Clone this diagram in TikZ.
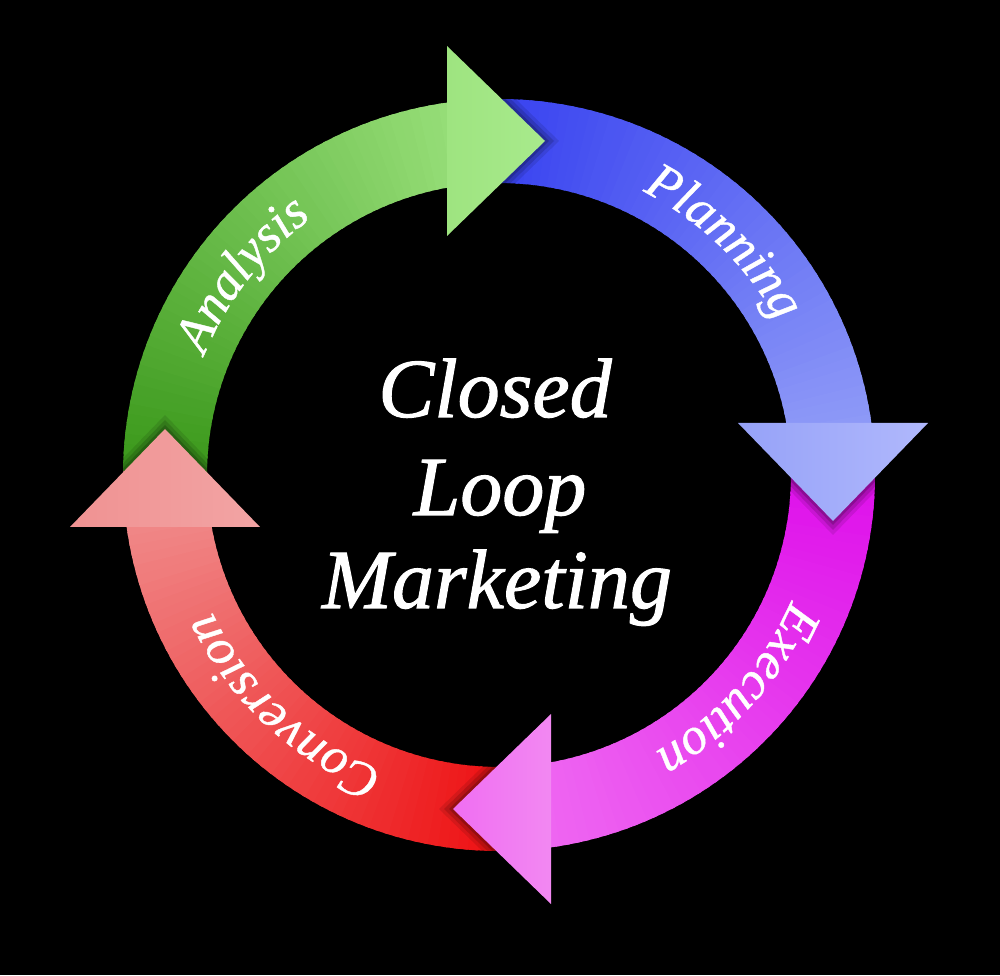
\documentclass[tikz,border=0pt]{standalone}
\usepackage{fontspec}
\setmainfont{Liberation Serif}
\usetikzlibrary{decorations.text}
\definecolor{gA}{RGB}{56,150,24}
\definecolor{gB}{RGB}{158,228,128}
\definecolor{gH}{RGB}{168,234,140}
\definecolor{bA}{RGB}{54,64,240}
\definecolor{bB}{RGB}{150,162,248}
\definecolor{bH}{RGB}{176,184,252}
\definecolor{mA}{RGB}{222,14,234}
\definecolor{mB}{RGB}{240,110,242}
\definecolor{mH}{RGB}{242,136,242}
\definecolor{rA}{RGB}{238,14,16}
\definecolor{rB}{RGB}{240,146,146}
\definecolor{rH}{RGB}{242,164,164}
\newcommand\arcbody[4]{%
  \foreach \i in {0,...,59}{%
    \pgfmathsetmacro\aa{#1+(#2-#1)*\i/60}%
    \pgfmathsetmacro\ab{#1+(#2-#1)*(\i+1.4)/60}%
    \pgfmathtruncatemacro\tt{100*\i/59}%
    \fill[#4!\tt!#3] (\aa:292pt) arc[start angle=\aa, end angle=\ab, radius=292pt]
      -- (\ab:376pt) arc[start angle=\ab, end angle=\aa, radius=376pt] -- cycle;
  }}
\newcommand\arrowhead[3]{%
  \begin{scope}[rotate=#1]
    \foreach \s/\o in {4/0.18,9/0.14,14/0.10}{%
      \fill[black,opacity=\o] (-52+\s,239) -- (-52+\s,429) -- (46+\s,334) -- cycle;}
    \shade[left color=#2, right color=#3] (-52,239) -- (-52,429) -- (46,334) -- cycle;
  \end{scope}}
\newcommand\lblfont{\fontsize{52}{52}\selectfont\itshape\addfontfeature{FakeBold=0.8}}
\begin{document}
\begin{tikzpicture}[x=1pt,y=1pt,
  ctext/.style={text=white,font=\fontsize{84}{97}\selectfont\itshape\addfontfeature{FakeBold=1.2},inner sep=0pt,anchor=base},
  arclabel/.style={decorate,decoration={text along path,text color=white,text align=center,text={|\lblfont|#1}}}]
\fill[black] (0,0) rectangle (1000,975);
\useasboundingbox (0,0) rectangle (1000,975);
\begin{scope}[shift={(499,500)}]
  % bodies
  \arcbody{183}{90}{gA}{gB}
  \arcbody{93}{0}{bA}{bB}
  \arcbody{3}{-90}{mA}{mB}
  \arcbody{-87}{-180}{rA}{rB}
  % heads
  \arrowhead{0}{gB}{gH}
  \arrowhead{-90}{bB}{bH}
  \arrowhead{-180}{mB}{mH}
  \arrowhead{90}{rB}{rH}
  % labels
  \path[arclabel=Analysis] (182:318pt) arc[start angle=182, end angle=102, radius=318pt];
  \path[arclabel=Planning] (86:318pt) arc[start angle=86, end angle=6, radius=318pt];
  \path[arclabel=Execution] (-2:318pt) arc[start angle=-2, end angle=-82, radius=318pt];
  \path[arclabel=Conversion] (267:318pt) arc[start angle=267, end angle=187, radius=318pt];
\end{scope}
\node[ctext] (closed) at (495,558) {Closed};
\node[ctext] (loop) at (500,460) {Loop};
\node[ctext] (marketing) at (497,367) {Marketing};
\end{tikzpicture}
\end{document}
